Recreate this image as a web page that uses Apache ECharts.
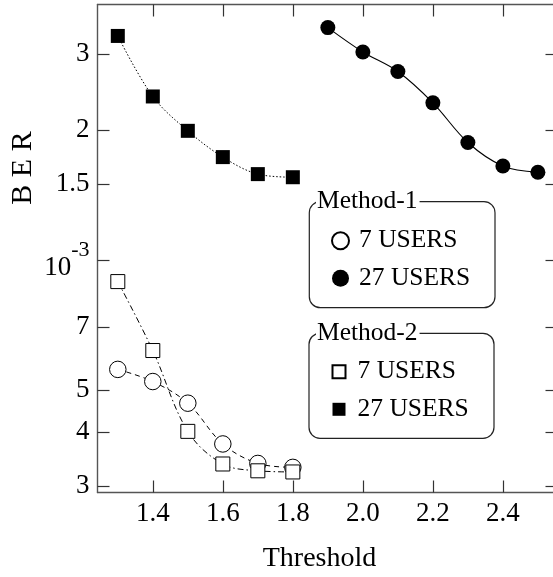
<!DOCTYPE html>
<html>
<head>
<meta charset="utf-8">
<script src="https://cdn.jsdelivr.net/npm/echarts@6/dist/echarts.min.js"></script>
<style>
  html, body { margin: 0; padding: 0; background: #fff; }
  #chart { width: 553px; height: 577px; }
</style>
</head>
<body>
<div id="chart"></div>
<script>
// Threshold values used by each group of curves
const thresholdsLow = [1.3, 1.4, 1.5, 1.6, 1.7, 1.8];
const thresholdsHigh = [1.9, 2.0, 2.1, 2.2, 2.3, 2.4, 2.5];

// Bit error rate for each method / user count
const method1Users7 = [5.58e-4, 5.23e-4, 4.66e-4, 3.75e-4, 3.38e-4, 3.31e-4];
const method1Users27 = [3.45e-3, 3.03e-3, 2.73e-3, 2.31e-3, 1.87e-3, 1.65e-3, 1.596e-3];
const method2Users7 = [8.91e-4, 6.17e-4, 4.01e-4, 3.37e-4, 3.25e-4, 3.23e-4];
const method2Users27 = [3.30e-3, 2.39e-3, 1.99e-3, 1.73e-3, 1.58e-3, 1.554e-3];

// Axis ticks and their labels
const xTicks = [1.4, 1.6, 1.8, 2.0, 2.2, 2.4];
const yTicks = [3e-4, 4e-4, 5e-4, 7e-4, 1e-3, 1.5e-3, 2e-3, 3e-3];
const yTickLabels = ['3', '4', '5', '7', '{b|10}{s|-3}', '1.5', '2', '3'];

const legendText = {
  m1u7: '7 USERS', m1u27: '27 USERS',
  m2u7: '7 USERS', m2u27: '27 USERS'
};

const FONT = '"Liberation Serif", "Times New Roman", serif';
const X_MIN = 1.242, X_MAX = 2.556;
const Y_MIN = 2.895e-4, Y_MAX = 3.902e-3;

const pairs = (xs, ys) => xs.map((x, i) => [x, ys[i]]);

function yLabel(v) {
  for (let i = 0; i < yTicks.length; i++) {
    if (Math.abs(v - yTicks[i]) / yTicks[i] < 1e-6) return yTickLabels[i];
  }
  return '';
}

const frameLine = { show: true, lineStyle: { color: '#555', width: 1.4 } };
const tickStyle = { lineStyle: { color: '#333', width: 1.2 } };

const chart = echarts.init(document.getElementById('chart'), null, { renderer: 'canvas' });

chart.setOption({
  animation: false,
  backgroundColor: '#fff',
  textStyle: { fontFamily: FONT },
  grid: { left: 97.5, top: 4.5, width: 460, height: 488, containLabel: false, outerBoundsMode: 'none' },
  xAxis: [
    {
      type: 'value', position: 'bottom', min: X_MIN, max: X_MAX,
      axisLine: frameLine,
      axisTick: Object.assign({ inside: true, length: 12, customValues: xTicks }, tickStyle),
      axisLabel: {
        customValues: xTicks, margin: 8,
        formatter: v => v.toFixed(1),
        fontFamily: FONT, fontSize: 27, color: '#000'
      },
      splitLine: { show: false },
      name: 'Threshold', nameLocation: 'middle', nameGap: 52,
      nameTextStyle: { fontFamily: FONT, fontSize: 28, color: '#000', padding: [0, 16, 0, 0] }
    },
    {
      type: 'value', position: 'top', min: X_MIN, max: X_MAX,
      axisLine: frameLine,
      axisTick: Object.assign({ inside: true, length: 12, customValues: xTicks }, tickStyle),
      axisLabel: { show: false },
      splitLine: { show: false }
    }
  ],
  yAxis: [
    {
      type: 'log', logBase: 10, position: 'left', min: Y_MIN, max: Y_MAX,
      axisLine: frameLine,
      axisTick: Object.assign({ inside: true, length: 12, customValues: yTicks }, tickStyle),
      axisLabel: {
        customValues: yTicks, margin: 8,
        formatter: yLabel,
        fontFamily: FONT, fontSize: 27, color: '#000',
        rich: {
          b: { fontFamily: FONT, fontSize: 27, color: '#000', lineHeight: 42, verticalAlign: 'bottom' },
          s: { fontFamily: FONT, fontSize: 22, color: '#000', verticalAlign: 'top' }
        }
      },
      splitLine: { show: false }
    },
    {
      type: 'log', logBase: 10, position: 'right', min: Y_MIN, max: Y_MAX,
      axisLine: frameLine,
      axisTick: Object.assign({ inside: true, length: 12, customValues: yTicks }, tickStyle),
      axisLabel: { show: false },
      splitLine: { show: false }
    }
  ],
  legend: [
    {
      data: [{ name: 'm1u7', icon: 'circle' }, { name: 'm1u27', icon: 'circle' }],
      orient: 'vertical', left: 331, top: 227.7, padding: 0, z: 10,
      itemWidth: 17, itemHeight: 17, itemGap: 11.6, itemTextGap: 10,
      selectedMode: false,
      formatter: n => legendText[n],
      textStyle: { fontFamily: FONT, fontSize: 25.5, color: '#000', lineHeight: 26, padding: [0, 0, 0, 5] }
    },
    {
      data: [{ name: 'm2u7', icon: 'rect' }, { name: 'm2u27', icon: 'rect' }],
      orient: 'vertical', left: 331.5, top: 358.7, padding: 0, z: 10,
      itemWidth: 13, itemHeight: 13, itemGap: 11.6, itemTextGap: 10,
      selectedMode: false,
      formatter: n => legendText[n],
      textStyle: { fontFamily: FONT, fontSize: 25.5, color: '#000', lineHeight: 26, padding: [0, 0, 0, 7] }
    }
  ],
  graphic: [
    // framed legend groups
    { type: 'rect', z: 1, shape: { x: 309.3, y: 201.7, width: 185.7, height: 106, r: 11 },
      style: { fill: 'none', stroke: '#222', lineWidth: 1.2 } },
    { type: 'text', z: 2, x: 316, y: 201, style: { text: 'Method-1', font: '25.5px ' + FONT,
      fill: '#000', verticalAlign: 'middle', backgroundColor: '#fff', padding: [0, 2, 0, 1] } },
    { type: 'rect', z: 1, shape: { x: 309, y: 333.3, width: 185, height: 105, r: 11 },
      style: { fill: 'none', stroke: '#222', lineWidth: 1.2 } },
    { type: 'text', z: 2, x: 316, y: 333, style: { text: 'Method-2', font: '25.5px ' + FONT,
      fill: '#000', verticalAlign: 'middle', backgroundColor: '#fff', padding: [0, 2, 0, 1] } },
    // vertical axis title
    { type: 'text', z: 2, x: 23, y: 168, rotation: Math.PI / 2,
      style: { text: 'B E R', font: '30px ' + FONT, fill: '#000', align: 'center', verticalAlign: 'middle' } }
  ],
  series: [
    {
      name: 'm1u7', type: 'line', data: pairs(thresholdsLow, method1Users7),
      smooth: 0.35, symbol: 'circle', symbolSize: 16.5, z: 3,
      itemStyle: { color: '#fff', borderColor: '#000', borderWidth: 1 },
      lineStyle: { color: '#000', width: 1, type: [5, 4] }
    },
    {
      name: 'm1u27', type: 'line', data: pairs(thresholdsHigh, method1Users27),
      smooth: 0.35, symbol: 'circle', symbolSize: 15, z: 3,
      itemStyle: { color: '#000', borderColor: '#000', borderWidth: 0 },
      lineStyle: { color: '#000', width: 1.1, type: 'solid' }
    },
    {
      name: 'm2u7', type: 'line', data: pairs(thresholdsLow, method2Users7),
      smooth: 0.35, symbol: 'rect', symbolSize: 14, z: 3,
      itemStyle: { color: '#fff', borderColor: '#000', borderWidth: 1 },
      lineStyle: { color: '#000', width: 1, type: [6, 3, 1.5, 3] }
    },
    {
      name: 'm2u27', type: 'line', data: pairs(thresholdsLow, method2Users27),
      smooth: 0.35, symbol: 'rect', symbolSize: 14, z: 3,
      itemStyle: { color: '#000', borderColor: '#000', borderWidth: 0 },
      lineStyle: { color: '#000', width: 1, type: [1.5, 2] }
    }
  ]
});
</script>
</body>
</html>
